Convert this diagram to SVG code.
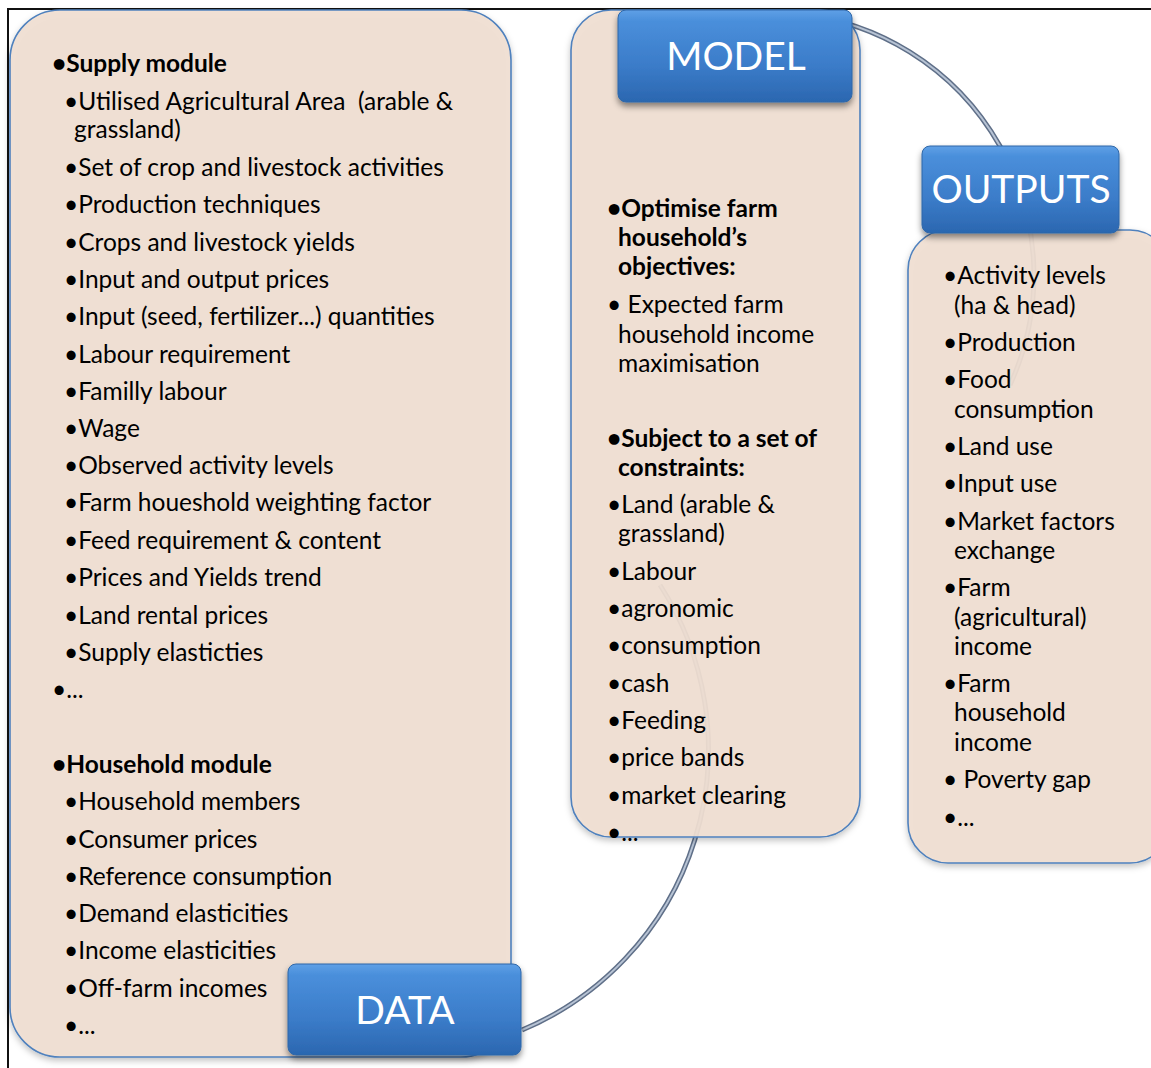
<svg xmlns="http://www.w3.org/2000/svg" width="1151" height="1068" viewBox="0 0 1151 1068">
<defs>
<style>
.t{font-family:Lato,"Open Sans","Liberation Sans",sans-serif;font-size:24.5px;fill:#000;white-space:pre}
.b{font-weight:bold}
.lbl{font-family:Lato,"Open Sans","Liberation Sans",sans-serif;font-size:39px;fill:#fff;text-anchor:middle}
.beige{fill:#f1dfd2;fill-opacity:0.92;stroke:#4f81bd;stroke-width:1.6}
.blue{fill:url(#bg);stroke:#2f67a8;stroke-width:1}
.arcO{fill:none;stroke:#5f6f88;stroke-width:5}
.arcI{fill:none;stroke:#b7c3d4;stroke-width:2}
</style>
<linearGradient id="bg" x1="0" y1="0" x2="0" y2="1">
<stop offset="0" stop-color="#5fa0e6"/>
<stop offset="0.12" stop-color="#4a8fdb"/>
<stop offset="0.6" stop-color="#3b7cc9"/>
<stop offset="1" stop-color="#2b67b0"/>
</linearGradient>
<filter id="sh" x="-10%" y="-10%" width="120%" height="130%">
<feDropShadow dx="0" dy="4" stdDeviation="3" flood-color="#000" flood-opacity="0.45"/>
</filter>
<filter id="shl" x="-10%" y="-10%" width="120%" height="120%">
<feDropShadow dx="0" dy="3" stdDeviation="3" flood-color="#000" flood-opacity="0.25"/>
</filter>
</defs>
<rect width="1151" height="1068" fill="#fff"/>
<path d="M8 1068 V9 H1151" fill="none" stroke="#111" stroke-width="2"/>

<g id="connectors">
<path class="arcO" d="M522 1030 A304 304 0 0 0 660 585"/>
<path class="arcI" d="M522 1030 A304 304 0 0 0 660 585"/>
<path class="arcO" d="M800 14 A263 263 0 0 1 1010 385"/>
<path class="arcI" d="M800 14 A263 263 0 0 1 1010 385"/>
</g>

<g id="data-panel">
<rect class="beige" x="10" y="10" width="501" height="1047" rx="50" filter="url(#shl)"/>
<text class="t b" x="52" y="72">•Supply module</text>
<text class="t" x="64" y="110">•Utilised Agricultural Area  (arable &amp;</text>
<text class="t" x="74" y="138">grassland)</text>
<text class="t" x="64" y="176">•Set of crop and livestock activities</text>
<text class="t" x="64" y="213">•Production techniques</text>
<text class="t" x="64" y="251">•Crops and livestock yields</text>
<text class="t" x="64" y="288">•Input and output prices</text>
<text class="t" x="64" y="325">•Input (seed, fertilizer...) quantities</text>
<text class="t" x="64" y="363">•Labour requirement</text>
<text class="t" x="64" y="400">•Familly labour</text>
<text class="t" x="64" y="437">•Wage</text>
<text class="t" x="64" y="474">•Observed activity levels</text>
<text class="t" x="64" y="511">•Farm houeshold weighting factor</text>
<text class="t" x="64" y="549">•Feed requirement &amp; content</text>
<text class="t" x="64" y="586">•Prices and Yields trend</text>
<text class="t" x="64" y="624">•Land rental prices</text>
<text class="t" x="64" y="661">•Supply elasticties</text>
<text class="t" x="52" y="698">•...</text>
<text class="t b" x="52" y="773">•Household module</text>
<text class="t" x="64" y="810">•Household members</text>
<text class="t" x="64" y="848">•Consumer prices</text>
<text class="t" x="64" y="885">•Reference consumption</text>
<text class="t" x="64" y="922">•Demand elasticities</text>
<text class="t" x="64" y="959">•Income elasticities</text>
<text class="t" x="64" y="997">•Off-farm incomes</text>
<text class="t" x="64" y="1034">•...</text>
</g>

<g id="model-panel">
<rect class="beige" x="571" y="10" width="289" height="827" rx="40" filter="url(#shl)"/>
<text class="t b" x="607" y="217">•Optimise farm</text>
<text class="t b" x="618" y="246">household’s</text>
<text class="t b" x="618" y="275">objectives:</text>
<text class="t" x="607" y="313">• Expected farm</text>
<text class="t" x="618" y="343">household income</text>
<text class="t" x="618" y="372">maximisation</text>
<text class="t b" x="607" y="447">•Subject to a set of</text>
<text class="t b" x="618" y="476">constraints:</text>
<text class="t" x="607" y="513">•Land (arable &amp;</text>
<text class="t" x="618" y="542">grassland)</text>
<text class="t" x="607" y="580">•Labour</text>
<text class="t" x="607" y="617">•agronomic</text>
<text class="t" x="607" y="654">•consumption</text>
<text class="t" x="607" y="692">•cash</text>
<text class="t" x="607" y="729">•Feeding</text>
<text class="t" x="607" y="766">•price bands</text>
<text class="t" x="607" y="804">•market clearing</text>
<text class="t" x="607" y="841">•...</text>
</g>

<g id="outputs-panel">
<rect class="beige" x="908" y="230" width="262" height="633" rx="40" filter="url(#shl)"/>
<text class="t" x="943" y="284">•Activity levels</text>
<text class="t" x="954" y="314">(ha &amp; head)</text>
<text class="t" x="943" y="351">•Production</text>
<text class="t" x="943" y="388">•Food</text>
<text class="t" x="954" y="418">consumption</text>
<text class="t" x="943" y="455">•Land use</text>
<text class="t" x="943" y="492">•Input use</text>
<text class="t" x="943" y="530">•Market factors</text>
<text class="t" x="954" y="559">exchange</text>
<text class="t" x="943" y="596">•Farm</text>
<text class="t" x="954" y="626">(agricultural)</text>
<text class="t" x="954" y="655">income</text>
<text class="t" x="943" y="692">•Farm</text>
<text class="t" x="954" y="721">household</text>
<text class="t" x="954" y="751">income</text>
<text class="t" x="943" y="788">• Poverty gap</text>
<text class="t" x="943" y="826">•...</text>
</g>

<g id="model-node">
<rect class="blue" x="618" y="10" width="234" height="92" rx="8" filter="url(#sh)"/>
<text class="lbl" x="736" y="70">MODEL</text>
</g>
<g id="outputs-node">
<rect class="blue" x="922" y="146" width="197" height="87" rx="8" filter="url(#sh)"/>
<text class="lbl" x="1021" y="203">OUTPUTS</text>
</g>
<g id="data-node">
<rect class="blue" x="288" y="964" width="233" height="91" rx="8" filter="url(#sh)"/>
<text class="lbl" x="405" y="1024">DATA</text>
</g>
</svg>
